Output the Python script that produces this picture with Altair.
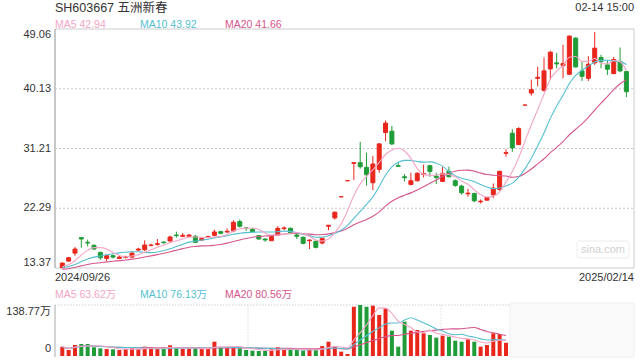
import altair as alt
import pandas as pd

# ---------------- data ----------------
opens = [13.4, 14.4, 15.6, 17.9, 17.2, 16.75, 15.7, 14.8, 15.2, 14.8,
         14.95, 15.0, 16.05, 16.1, 16.75, 16.9, 17.25, 17.4, 18.3, 18.1,
         18.1, 18.1, 17.55, 17.95, 18.25, 18.8, 18.75, 18.9, 20.3, 19.35,
         19.15, 18.2, 17.7, 17.45, 18.3, 19.25, 19.3, 18.3, 17.95, 17.45,
         17.35, 17.1, 19.6, 20.85, 24.0, 26.4, 29.0, 29.1, 28.4, 26.1,
         28.1, 33.6, 33.8, 28.65, 27.0, 25.85, 26.4, 27.35, 28.65, 27.1,
         26.3, 27.8, 26.4, 25.6, 24.45, 24.5, 23.25, 23.5, 24.3, 25.1,
         30.5, 33.5, 31.8, 37.7, 39.5, 41.7, 39.9, 43.1, 44.0, 43.6,
         42.3, 47.7, 42.8, 41.7, 44.0, 44.8, 43.7, 42.4, 44.2, 42.7]
highs = [14.2, 15.0, 16.5, 17.95, 17.6, 16.9, 15.8, 15.4, 15.4, 15.2,
         15.2, 15.9, 16.4, 17.5, 17.0, 17.7, 17.3, 18.2, 18.8, 18.6,
         18.4, 18.3, 17.9, 18.2, 19.1, 18.9, 19.3, 20.5, 20.6, 19.4,
         19.3, 18.3, 17.8, 18.2, 19.6, 19.6, 19.4, 18.6, 18.1, 17.6,
         17.5, 17.9, 19.8, 21.8, 24.0, 26.4, 29.1, 32.2, 30.6, 30.1,
         32.0, 35.4, 34.6, 29.1, 27.4, 27.6, 27.7, 28.8, 28.8, 27.6,
         28.5, 28.5, 26.6, 25.8, 25.2, 24.6, 23.6, 24.0, 26.0, 27.9,
         31.1, 34.1, 34.4, 37.7, 41.5, 43.4, 44.8, 45.8, 45.5, 46.7,
         48.1, 47.8, 44.2, 45.0, 48.6, 45.2, 44.4, 44.9, 46.3, 42.8]
lows = [13.37, 14.3, 15.2, 16.4, 16.6, 16.1, 14.6, 14.4, 14.8, 14.7,
        14.8, 14.9, 15.9, 15.9, 16.6, 16.7, 17.0, 17.3, 17.9, 18.0,
        18.0, 17.1, 17.4, 17.8, 18.1, 18.4, 18.6, 18.7, 19.4, 18.9,
        18.7, 17.6, 17.3, 17.4, 18.2, 19.0, 18.4, 17.7, 16.9, 16.2,
        16.3, 16.9, 19.0, 20.6, 24.0, 26.4, 26.5, 28.2, 25.7, 25.0,
        27.6, 32.3, 31.7, 28.5, 26.3, 25.7, 26.3, 26.9, 27.0, 25.9,
        26.2, 26.9, 25.5, 24.3, 24.0, 23.2, 23.0, 23.4, 23.8, 24.9,
        30.0, 30.7, 31.7, 37.7, 39.1, 40.5, 39.7, 41.5, 43.2, 41.7,
        42.2, 43.3, 41.3, 41.3, 43.7, 43.2, 42.2, 42.3, 42.6, 38.9]
closes = [14.1, 14.9, 16.2, 17.7, 17.1, 16.2, 14.9, 15.2, 15.0, 15.0,
          15.0, 15.6, 16.2, 16.8, 16.8, 17.0, 17.15, 18.0, 18.2, 18.25,
          18.3, 17.2, 17.75, 18.05, 18.75, 18.55, 18.85, 20.2, 19.6, 19.3,
          18.8, 17.7, 17.55, 18.1, 19.3, 19.35, 18.55, 18.1, 17.05, 17.55,
          16.45, 17.8, 19.75, 21.7, 24.0, 26.4, 29.1, 28.5, 27.3, 28.9,
          31.9, 35.0, 31.9, 28.55, 26.85, 26.4, 27.5, 27.45, 27.8, 26.9,
          27.5, 27.0, 25.7, 24.6, 24.55, 23.4, 23.35, 23.9, 25.3, 27.8,
          30.6, 31.3, 34.2, 37.7, 40.0, 41.85, 42.8, 45.6, 43.85, 43.9,
          48.0, 43.4, 42.0, 43.8, 46.2, 44.2, 43.05, 44.5, 42.8, 39.7]
# closes before 2024/09/26 (not drawn), estimated from where the MA lines start
prior_closes = [12.6, 12.7, 12.8, 12.7, 12.9, 13.0, 12.9, 13.1, 13.0, 13.2,
                13.1, 13.3, 13.2, 13.4, 13.3, 13.2, 13.4, 13.5, 13.6]
# volume in 万 shares; only the first 71 days are visible in the reference
volumes = [25.4, 16.3, 29.9, 32.7, 32.7, 23.6, 20.9, 19.0, 18.1, 16.3,
           19.0, 20.9, 19.0, 25.4, 20.9, 19.0, 21.8, 29.0, 20.9, 19.0,
           19.0, 21.8, 19.0, 20.9, 39.0, 23.6, 22.7, 23.6, 20.9, 16.3,
           14.5, 13.6, 14.5, 18.1, 23.6, 19.0, 16.3, 16.3, 14.5, 18.1,
           18.1, 27.0, 38.9, 27.0, 11.8, 5.4, 134.0, 138.77, 134.0, 137.0,
           111.6, 129.8, 68.9, 25.4, 93.4, 68.9, 70.7, 61.7, 57.1, 49.9,
           55.3, 52.6, 41.7, 38.9, 45.4, 38.9, 25.4, 29.9, 61.7, 59.9,
           36.0]

price_ticks = [49.06, 40.13, 31.21, 22.29, 13.37]
price_tick_labels = ["49.06", "40.13", "31.21", "22.29", "13.37"]
vol_ticks = [138.77, 0]
vol_tick_labels = ["138.77万", "0"]
date_labels = ["2024/09/26", "2025/02/14"]
ma_price_labels = ["MA5 42.94", "MA10 43.92", "MA20 41.66"]
ma_vol_labels = ["MA5 63.62万", "MA10 76.13万", "MA20 80.56万"]
title_text = "SH603667 五洲新春"
stamp_text = "02-14 15:00"
watermark = "sina.com"

# ---------------- style ----------------
RED = "#e8261c"
GREEN = "#1f9c37"
MA_COLORS = ["#f3a6c6", "#55bfd2", "#d6568c"]
TEXT = "#333333"
FRAME = "#cccccc"
FONT = "Liberation Sans, Noto Sans CJK SC, sans-serif"

n = len(closes)
idx = list(range(1, n + 1))
dirs = ["up" if c >= o else "down" for o, c in zip(opens, closes)]
candles = pd.DataFrame({"i": idx, "open": opens, "high": highs, "low": lows,
                        "close": closes, "dir": dirs})
warm = pd.DataFrame({"i": list(range(1 - len(prior_closes), 1)), "close": prior_closes})
closes_all = pd.concat([warm, candles[["i", "close"]]], ignore_index=True)
nv = len(volumes)
vol_df = pd.DataFrame({"i": idx[:nv], "vol": volumes, "dir": dirs[:nv]})

xs = alt.Scale(domain=[1, n], range=[57.3, 631.4], nice=False, zero=False)
ps = alt.Scale(domain=[13.37, 49.06], range=[268, 29], nice=False, zero=False)
vs = alt.Scale(domain=[0, 138.77], range=[356, 305], nice=False, zero=False)
cs = alt.Scale(domain=["up", "down"], range=[RED, GREEN])
X = alt.X("i:Q", scale=xs, axis=None)
one = pd.DataFrame({"a": [0]})

layers = []

# price panel frame and grid
layers.append(alt.Chart(one).mark_rect(fillOpacity=0, stroke=FRAME, strokeWidth=1).encode(
    x=alt.value(55), x2=alt.value(634), y=alt.value(29), y2=alt.value(268)))
layers.append(alt.Chart(one).mark_rule(color="#aaaaaa", strokeWidth=1).encode(
    x=alt.value(55), y=alt.value(29), y2=alt.value(268)))
grid_df = pd.DataFrame({"v": price_ticks[1:-1]})
layers.append(alt.Chart(grid_df).mark_rule(color="#c8c8c8", strokeWidth=1, strokeDash=[2, 2]).encode(
    y=alt.Y("v:Q", scale=ps, axis=None), x=alt.value(55), x2=alt.value(634)))

# candles
layers.append(alt.Chart(candles).mark_rule(strokeWidth=1).encode(
    x=X, y=alt.Y("low:Q", scale=ps, axis=None), y2="high:Q",
    color=alt.Color("dir:N", scale=cs, legend=None)))
layers.append(alt.Chart(candles).mark_bar(size=4, strokeWidth=1).encode(
    x=X, y=alt.Y("open:Q", scale=ps, axis=None), y2="close:Q",
    color=alt.Color("dir:N", scale=cs, legend=None),
    stroke=alt.Stroke("dir:N", scale=cs, legend=None)))

# price moving averages
ma_base = (alt.Chart(closes_all)
           .transform_window(ma5="mean(close)", frame=[-4, 0], sort=[alt.SortField("i")])
           .transform_window(ma10="mean(close)", frame=[-9, 0], sort=[alt.SortField("i")])
           .transform_window(ma20="mean(close)", frame=[-19, 0], sort=[alt.SortField("i")])
           .transform_filter("datum.i >= 1"))
for field, col in zip(["ma20", "ma10", "ma5"], MA_COLORS[::-1]):
    layers.append(ma_base.mark_line(color=col, strokeWidth=1.1, interpolate="monotone").encode(
        x=X, y=alt.Y(f"{field}:Q", scale=ps, axis=None)))

# volume panel frame
layers.append(alt.Chart(one).mark_rule(color="#cfcfcf", strokeWidth=1, strokeDash=[1.5, 1.5]).encode(
    x=alt.value(55), x2=alt.value(634), y=alt.value(305)))
layers.append(alt.Chart(one).mark_rule(color="#aaaaaa", strokeWidth=1).encode(
    x=alt.value(55), y=alt.value(305), y2=alt.value(357)))
for vx in [248, 441]:
    layers.append(alt.Chart(one).mark_rule(color="#dddddd", strokeWidth=1, strokeDash=[1.5, 1.5]).encode(
        x=alt.value(vx), y=alt.value(305), y2=alt.value(357)))

# volume bars
layers.append(alt.Chart(vol_df).mark_bar(size=4).encode(
    x=X, y=alt.Y("vol:Q", scale=vs, axis=None), y2=alt.datum(0),
    color=alt.Color("dir:N", scale=cs, legend=None)))

vma = (alt.Chart(vol_df)
       .transform_window(v5="mean(vol)", frame=[-4, 0], sort=[alt.SortField("i")])
       .transform_window(v10="mean(vol)", frame=[-9, 0], sort=[alt.SortField("i")])
       .transform_window(v20="mean(vol)", frame=[-19, 0], sort=[alt.SortField("i")]))
for field, col in zip(["v20", "v10", "v5"], MA_COLORS[::-1]):
    layers.append(vma.mark_line(color=col, strokeWidth=1.1, interpolate="monotone").encode(
        x=X, y=alt.Y(f"{field}:Q", scale=vs, axis=None)))

# faded overlay at the right of the volume panel
layers.append(alt.Chart(one).mark_rect(fill="#fafafa", stroke="#eeeeee", strokeWidth=1).encode(
    x=alt.value(510), x2=alt.value(634), y=alt.value(303), y2=alt.value(357)))

# watermark
layers.append(alt.Chart(one).mark_rect(fillOpacity=0, stroke="#ececec", strokeWidth=1, cornerRadius=3).encode(
    x=alt.value(577), x2=alt.value(629), y=alt.value(241), y2=alt.value(258)))
layers.append(alt.Chart(one).mark_text(text=watermark, font=FONT, fontSize=11, color="#cfcfcf",
                                       align="center", baseline="middle").encode(
    x=alt.value(603), y=alt.value(249.5)))

# texts
def txt(s, x, y, color=TEXT, size=11, align="left"):
    return alt.Chart(one).mark_text(text=s, font=FONT, fontSize=size, color=color,
                                    align=align, baseline="middle").encode(
        x=alt.value(x), y=alt.value(y))

layers.append(txt(title_text, 55, 8, size=12.5))
layers.append(txt(stamp_text, 634, 8, align="right"))
for s, x, col in zip(ma_price_labels, [55, 140, 225], MA_COLORS):
    layers.append(txt(s, x, 24.5, color=col, size=10.5))
for s, x, col in zip(ma_vol_labels, [55, 140, 225], MA_COLORS):
    layers.append(txt(s, x, 295, color=col, size=10.5))
layers.append(txt(date_labels[0], 55, 278))
layers.append(txt(date_labels[1], 634, 278, align="right"))

plab = pd.DataFrame({"v": price_ticks, "label": price_tick_labels})
for cond, dy in [("datum.v == 49.06", 6), ("datum.v != 49.06 && datum.v != 13.37", 0), ("datum.v == 13.37", -5)]:
    layers.append(alt.Chart(plab).transform_filter(cond).mark_text(
        font=FONT, fontSize=11, color=TEXT, align="right", baseline="middle", dy=dy).encode(
        y=alt.Y("v:Q", scale=ps, axis=None), x=alt.value(51), text="label:N"))
vlab = pd.DataFrame({"v": vol_ticks, "label": vol_tick_labels})
for cond, dy in [("datum.v > 0", 6.5), ("datum.v == 0", -7)]:
    layers.append(alt.Chart(vlab).transform_filter(cond).mark_text(
        font=FONT, fontSize=11, color=TEXT, align="right", baseline="middle", dy=dy).encode(
        y=alt.Y("v:Q", scale=vs, axis=None), x=alt.value(51), text="label:N"))

chart = (alt.layer(*layers)
         .resolve_scale(y="independent")
         .properties(width=640, height=360, padding=0,
                     autosize=alt.AutoSizeParams(type="none"), background="white")
         .configure_view(stroke=None))

chart.save("out.html", embed_options={"renderer": "svg", "actions": False})
